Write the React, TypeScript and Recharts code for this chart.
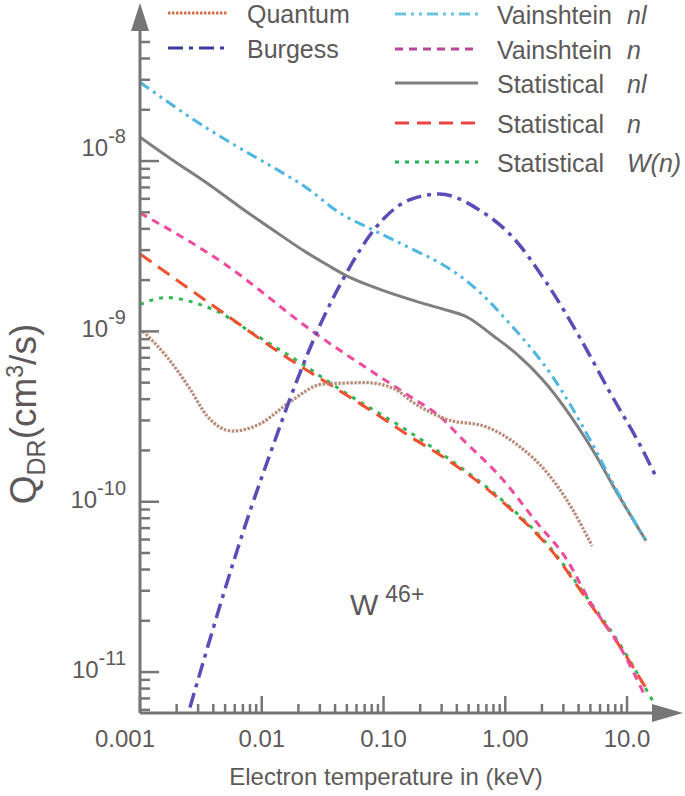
import React from "react";
import { Line, LineChart, XAxis, YAxis } from "recharts";

const FONT = '"Liberation Sans", Arial, Helvetica, sans-serif';
const INK = "#5d595a";
const AXIS = "#767676";

const WIDTH = 685;
const HEIGHT = 796;
// plot box inside the 685x796 picture
const PLOT = { left: 140, right: 665, top: 30, bottom: 713 };

const X_DOMAIN: [number, number] = [0.001, 20.5];
const Y_DOMAIN: [number, number] = [5.75e-12, 5.88e-8];

// tick values (major ones are the powers of ten)
const X_TICKS = [
  0.001, 0.002, 0.003, 0.004, 0.005, 0.006, 0.007, 0.008, 0.009,
  0.01, 0.02, 0.03, 0.04, 0.05, 0.06, 0.07, 0.08, 0.09,
  0.1, 0.2, 0.3, 0.4, 0.5, 0.6, 0.7, 0.8, 0.9,
  1, 2, 3, 4, 5, 6, 7, 8, 9,
  10,
];
const X_LABELS: Record<number, string> = { [-3]: "0.001", [-2]: "0.01", [-1]: "0.10", 0: "1.00", 1: "10.0" };

const Y_TICKS = [
  6e-12, 7e-12, 8e-12, 9e-12,
  1e-11, 2e-11, 3e-11, 4e-11, 5e-11, 6e-11, 7e-11, 8e-11, 9e-11,
  1e-10, 2e-10, 3e-10, 4e-10, 5e-10, 6e-10, 7e-10, 8e-10, 9e-10,
  1e-9, 2e-9, 3e-9, 4e-9, 5e-9, 6e-9, 7e-9, 8e-9, 9e-9,
  1e-8, 2e-8, 3e-8, 4e-8, 5e-8,
];
const Y_LABELS: Record<number, string> = { [-8]: "-8", [-9]: "-9", [-10]: "-10", [-11]: "-11" };

// electron temperature (keV) and rate coefficient (cm^3/s)
const quantumT = [0.00106, 0.00166, 0.00257, 0.00354, 0.00578, 0.00963, 0.017, 0.0316, 0.0726, 0.123, 0.173, 0.328, 0.698, 1.3, 2.17, 3.54, 5.16];
const quantumQ = [1.0e-9, 7.1e-10, 4.6e-10, 3.2e-10, 2.6e-10, 2.86e-10, 3.85e-10, 4.9e-10, 5.0e-10, 4.6e-10, 3.85e-10, 3.05e-10, 2.75e-10, 2.12e-10, 1.5e-10, 9.1e-11, 5.5e-11];

const burgessT = [0.00257, 0.00798, 0.0128, 0.017, 0.0283, 0.0498, 0.0813, 0.163, 0.288, 0.612, 1.14, 2.17, 4.04, 7.53, 13.3, 17.3];
const burgessQ = [6.2e-12, 8.75e-11, 2.28e-10, 4.0e-10, 9.86e-10, 2.21e-9, 3.85e-9, 5.91e-9, 6.41e-9, 5.16e-9, 3.6e-9, 1.94e-9, 9.35e-10, 4.17e-10, 2.04e-10, 1.4e-10];

const vainNlT = [0.001, 0.00375, 0.00661, 0.0123, 0.0234, 0.0436, 0.0813, 0.197, 0.288, 0.489, 1.14, 2.43, 5.16, 7.53, 14.3];
const vainNlQ = [2.9e-8, 1.52e-8, 1.19e-8, 9.22e-9, 6.95e-9, 4.96e-9, 3.95e-9, 2.9e-9, 2.53e-9, 1.96e-9, 1.07e-9, 5.46e-10, 2.2e-10, 1.31e-10, 5.9e-11];

const vainNT = [0.001, 0.00479, 0.0262, 0.163, 0.288, 0.444, 0.945, 1.79, 3.16, 5.16, 8.59, 14.3];
const vainNQ = [4.96e-9, 2.53e-9, 1.0e-9, 4.17e-10, 3.18e-10, 2.33e-10, 1.36e-10, 7.64e-11, 4.64e-11, 2.47e-11, 1.44e-11, 7.05e-12];

const statNlT = [0.001, 0.00186, 0.00354, 0.00661, 0.0123, 0.0234, 0.0341, 0.0498, 0.0813, 0.186, 0.3, 0.489, 0.8, 1.25, 2.01, 5.16, 8.59, 14.3];
const statNlQ = [1.38e-8, 1.01e-8, 7.43e-9, 5.38e-9, 3.95e-9, 2.9e-9, 2.47e-9, 2.12e-9, 1.83e-9, 1.5e-9, 1.36e-9, 1.21e-9, 9.4e-10, 7.33e-10, 5.24e-10, 2.04e-10, 1.08e-10, 5.91e-11];

const statNT = [0.001, 0.00479, 0.017, 0.0382, 0.0927, 0.163, 0.328, 0.945, 2.43, 4.61, 8.59, 14.3];
const statNQ = [2.85e-9, 1.29e-9, 6.85e-10, 4.76e-10, 3.18e-10, 2.43e-10, 1.78e-10, 1.0e-10, 5.11e-11, 2.71e-11, 1.44e-11, 8.06e-12];

const statWT = [0.001, 0.00166, 0.00257, 0.00479, 0.00798, 0.0205, 0.0436, 0.163, 0.328, 0.945, 2.43, 4.61, 8.59, 16.6];
const statWQ = [1.44e-9, 1.58e-9, 1.5e-9, 1.26e-9, 1.0e-9, 6.59e-10, 4.58e-10, 2.57e-10, 1.83e-10, 1.02e-10, 5.2e-11, 2.78e-11, 1.48e-11, 6.59e-12];

const zip = (t: number[], q: number[]) => t.map((v, i) => ({ t: v, q: q[i] }));

type Series = {
  key: string;
  name: string;
  tag?: string;
  data: { t: number; q: number }[];
  color: string;
  legendColor: string;
  dash?: string;
  width: number;
  legend: { col: number; y: number };
};

const SERIES: Series[] = [
  { key: "statW", name: "Statistical", tag: "W(n)", data: zip(statWT, statWQ), color: "#34b655", legendColor: "#22b04c", dash: "4 6", width: 3, legend: { col: 1, y: 162 } },
  { key: "statN", name: "Statistical", tag: "n", data: zip(statNT, statNQ), color: "#f0502f", legendColor: "#e84444", dash: "14 8", width: 3, legend: { col: 1, y: 123 } },
  { key: "vainN", name: "Vainshtein", tag: "n", data: zip(vainNT, vainNQ), color: "#ee4c9e", legendColor: "#b8469e", dash: "8 6", width: 3, legend: { col: 1, y: 49 } },
  { key: "quantum", name: "Quantum", data: zip(quantumT, quantumQ), color: "#b98b78", legendColor: "#d8704c", dash: "2.5 1.5", width: 3.2, legend: { col: 0, y: 13 } },
  { key: "statNl", name: "Statistical", tag: "nl", data: zip(statNlT, statNlQ), color: "#7f7f7f", legendColor: "#7f7f7f", width: 3, legend: { col: 1, y: 83 } },
  { key: "vainNl", name: "Vainshtein", tag: "nl", data: zip(vainNlT, vainNlQ), color: "#4fb6e2", legendColor: "#6cc4e4", dash: "11 5 3 5 3 5", width: 3, legend: { col: 1, y: 14 } },
  { key: "burgess", name: "Burgess", data: zip(burgessT, burgessQ), color: "#5a4db8", legendColor: "#3c3ca0", dash: "15 6 4 6", width: 3.5, legend: { col: 0, y: 48 } },
];

const LEGEND_COLS = [
  { x1: 168, x2: 228, tx: 247 },
  { x1: 395, x2: 478, tx: 497 },
];
const LEGEND_TAG_X = 627;

const decade = (v: number) => {
  const l = Math.log10(v);
  const r = Math.round(l);
  return Math.abs(l - r) < 1e-6 ? r : null;
};

function XTick(props: any) {
  const { x, y, payload } = props;
  const d = decade(payload.value);
  const major = d !== null;
  return (
    <g>
      <line x1={x} x2={x} y1={y} y2={y - (major ? 17 : 9)} stroke={AXIS} strokeWidth={2.5} />
      {major && (
        <text x={d === -3 ? x - 15 : x} y={y + 34} textAnchor="middle" fontFamily={FONT} fontSize={24} fill={INK}>
          {X_LABELS[d as number]}
        </text>
      )}
    </g>
  );
}

function YTick(props: any) {
  const { x, y, payload } = props;
  const d = decade(payload.value);
  const major = d !== null;
  return (
    <g>
      <line x1={x} x2={x + (major ? 19 : 10)} y1={y} y2={y} stroke={AXIS} strokeWidth={2.5} />
      {major && (
        <text x={x - 14} y={y + (d === -8 ? -5 : 6)} textAnchor="end" fontFamily={FONT} fontSize={24} fill={INK}>
          10
          <tspan dy={-13} fontSize={20}>
            {Y_LABELS[d as number]}
          </tspan>
        </text>
      )}
    </g>
  );
}

function Overlay() {
  return (
    <svg width={WIDTH} height={HEIGHT} style={{ position: "absolute", left: 0, top: 0, pointerEvents: "none" }}>
      {/* axis arrow heads */}
      <polygon points={`${PLOT.left},3 ${PLOT.left - 9},${PLOT.top + 1} ${PLOT.left + 9},${PLOT.top + 1}`} fill={AXIS} />
      <polygon points={`683,${PLOT.bottom} 652,${PLOT.bottom - 9} 652,${PLOT.bottom + 9}`} fill={AXIS} />

      {/* legend */}
      {SERIES.map((s) => {
        const c = LEGEND_COLS[s.legend.col];
        return (
          <g key={s.key}>
            <line x1={c.x1} x2={c.x2} y1={s.legend.y} y2={s.legend.y} stroke={s.legendColor} strokeWidth={3} strokeDasharray={s.dash} />
            <text x={c.tx} y={s.legend.y + 10} fontFamily={FONT} fontSize={25} fill={INK}>
              {s.name}
            </text>
            {s.tag && (
              <text x={LEGEND_TAG_X} y={s.legend.y + 10} fontFamily={FONT} fontSize={25} fontStyle="italic" fill={INK}>
                {s.tag}
              </text>
            )}
          </g>
        );
      })}

      {/* ion label */}
      <text x={350} y={615} fontFamily={FONT} fontSize={30} fill={INK}>
        W
        <tspan dx={7} dy={-13} fontSize={23}>
          46+
        </tspan>
      </text>

      {/* axis titles */}
      <text x={386} y={785} textAnchor="middle" fontFamily={FONT} fontSize={24} fill={INK}>
        Electron temperature in (keV)
      </text>
      <text transform="rotate(-90)" x={-414} y={36} textAnchor="middle" fontFamily={FONT} fontSize={37} fill={INK}>
        Q
        <tspan dy={9} fontSize={25}>
          DR
        </tspan>
        <tspan dy={-9}>(cm</tspan>
        <tspan dy={-13} fontSize={23}>
          3
        </tspan>
        <tspan dy={13}>/s)</tspan>
      </text>
    </svg>
  );
}

export default function App() {
  return (
    <div style={{ position: "absolute", left: 0, top: 0, width: WIDTH, height: HEIGHT, background: "#fff" }}>
      <LineChart
        width={WIDTH}
        height={HEIGHT}
        margin={{ top: PLOT.top, right: WIDTH - PLOT.right, bottom: HEIGHT - PLOT.bottom - 30, left: PLOT.left - 60 }}
      >
        <XAxis
          type="number"
          dataKey="t"
          scale="log"
          domain={X_DOMAIN}
          allowDataOverflow
          ticks={X_TICKS}
          interval={0}
          tick={XTick}
          tickLine={false}
          tickSize={0}
          tickMargin={0}
          height={30}
          axisLine={{ stroke: AXIS, strokeWidth: 3 }}
        />
        <YAxis
          type="number"
          dataKey="q"
          scale="log"
          domain={Y_DOMAIN}
          allowDataOverflow
          ticks={Y_TICKS}
          interval={0}
          tick={YTick}
          tickLine={false}
          tickSize={0}
          tickMargin={0}
          width={60}
          axisLine={{ stroke: AXIS, strokeWidth: 3 }}
        />
        {SERIES.map((s) => (
          <Line
            key={s.key}
            data={s.data}
            dataKey="q"
            type="monotone"
            stroke={s.color}
            strokeWidth={s.width}
            strokeDasharray={s.dash}
            dot={false}
            activeDot={false}
            isAnimationActive={false}
          />
        ))}
      </LineChart>
      <Overlay />
    </div>
  );
}
